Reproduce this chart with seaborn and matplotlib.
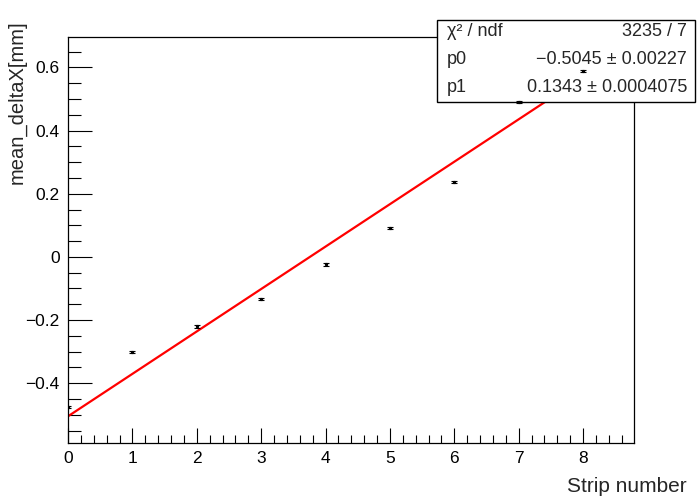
import numpy as np
import pandas as pd
import matplotlib
matplotlib.use("Agg")
import matplotlib.pyplot as plt
from matplotlib.ticker import MultipleLocator
import seaborn as sns

# 데이터
strip = [0, 1, 2, 3, 4, 5, 6, 7, 8]
mean_dx = [-0.475, -0.302, -0.220, -0.133, -0.024, 0.091, 0.236, 0.490, 0.588]
mean_dx_err = [0.004, 0.003, 0.004, 0.004, 0.004, 0.004, 0.003, 0.003, 0.003]

p0, p0_err = -0.5045, 0.00227
p1, p1_err = 0.1343, 0.0004075
chi2, ndf = 3235, 7

df = pd.DataFrame({'strip': strip, 'mean_dx': mean_dx, 'err': mean_dx_err})
fit = pd.DataFrame({'x': np.linspace(0, 8.8, 200)})
fit['y'] = p0 + p1 * fit['x']

sns.set_style('ticks')
plt.rcParams['font.family'] = ['Liberation Sans', 'DejaVu Sans']

xlim = (0, 8.79)
ylim = (-0.589, 0.696)
pos = [68 / 700, 57 / 500, 566 / 700, 406 / 500]

fig = plt.figure(figsize=(7, 5), dpi=100)
ax = fig.add_axes(pos)

sns.lineplot(data=fit, x='x', y='y', color='red', linewidth=1.6, ax=ax, zorder=2)

# 점은 통계 박스 위에 그려짐 (ROOT 스타일)
ax_pts = fig.add_axes(pos, zorder=10)
ax_pts.patch.set_visible(False)
ax_pts.errorbar(df['strip'], df['mean_dx'], yerr=df['err'], fmt='s', ms=1.3,
                color='black', ecolor='black', elinewidth=0.8, capsize=2.2,
                capthick=0.8)
ax_pts.set_xlim(*xlim)
ax_pts.set_ylim(*ylim)
ax_pts.axis('off')

ax.set_xlim(*xlim)
ax.set_ylim(*ylim)
ax.xaxis.set_major_locator(MultipleLocator(1))
ax.xaxis.set_minor_locator(MultipleLocator(0.2))
ax.yaxis.set_major_locator(MultipleLocator(0.2))
ax.yaxis.set_minor_locator(MultipleLocator(0.05))
ax.tick_params(which='both', direction='in', top=False, right=False,
               bottom=True, left=True, labelsize=12.5, colors='black')
ax.tick_params(axis='y', which='major', length=17, width=0.8, pad=6)
ax.tick_params(axis='y', which='minor', length=9, width=0.8)
ax.tick_params(axis='x', which='major', length=11, width=0.8, pad=6)
ax.tick_params(axis='x', which='minor', length=6, width=0.8)
ax.yaxis.set_major_formatter(plt.FuncFormatter(
    lambda v, _: '0' if abs(v) < 1e-9 else f'{v:.1f}'.replace('-', '\u2212')))
for s in ax.spines.values():
    s.set_linewidth(0.9)
    s.set_color('black')

ax.set_xlabel('')
ax.set_ylabel('')
fig.text(687 / 700, 1 - 487 / 500, 'Strip number', ha='right', va='center', fontsize=15)
fig.text(17 / 700, 1 - 20 / 500, 'mean_deltaX[mm]', ha='center', va='top',
         rotation=90, fontsize=14.5)

# 통계 박스
box = plt.Rectangle((437 / 700, 1 - 102 / 500), 258 / 700, 82 / 500,
                    transform=fig.transFigure, facecolor='white',
                    edgecolor='black', linewidth=1.0, zorder=5)
fig.add_artist(box)
rows = [('\u03c7\u00b2 / ndf', f'{chi2} / {ndf}', 32),
        ('p0', f'\u2212{abs(p0):.4f} \u00b1 {p0_err}', 60),
        ('p1', f'{p1:.4f} \u00b1 {p1_err}', 88)]
for left, right, yy in rows:
    fig.text(447 / 700, 1 - yy / 500, left, ha='left', va='center', fontsize=13, zorder=6)
    fig.text(687 / 700, 1 - yy / 500, right, ha='right', va='center', fontsize=13, zorder=6)

fig.savefig('out.png', dpi=100)
